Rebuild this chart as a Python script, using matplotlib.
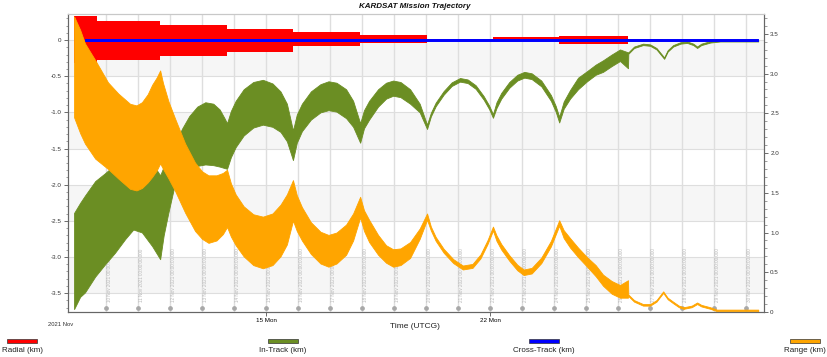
import matplotlib
matplotlib.use("Agg")
import matplotlib.pyplot as plt
import matplotlib.dates as mdates
import matplotlib.transforms as mtransforms
from matplotlib.patches import Rectangle
from matplotlib.ticker import MultipleLocator, FuncFormatter
from datetime import datetime
import numpy as np

plt.rcParams['font.family'] = ['Liberation Sans', 'DejaVu Sans']

# times are fractional days of November 2021; hi/lo are the envelopes of the
# fast orbital oscillation
radial_t = [9.0, 9.72, 11.69, 13.78, 15.84, 17.94, 20.03, 22.09, 24.16, 26.31, 27.41, 30.38]
radial_hi = [0.33, 0.26, 0.21, 0.15, 0.11, 0.07, 0.02, 0.04, 0.05, 0.015, 0.005, 0.005]
radial_lo = [-0.32, -0.28, -0.22, -0.16, -0.08, -0.04, -0.02, -0.02, -0.06, -0.015, -0.005, -0.005]

cross_t = [9.34, 26.31, 30.38]
cross_hi = [0.015, 0.008, 0.008]
cross_lo = [-0.015, -0.008, -0.008]

intrack_t = [9.0, 9.19, 9.34, 9.66, 9.97, 10.28, 10.6, 10.85, 11.12, 11.44, 11.69,
             11.8, 11.94, 12.16, 12.38, 12.6, 12.85, 13.1, 13.35, 13.55, 13.7, 13.78,
             13.9, 14.05, 14.3, 14.6, 14.9, 15.2, 15.45, 15.65, 15.84,
             15.96, 16.12, 16.4, 16.7, 16.95, 17.2, 17.5, 17.72, 17.94,
             18.06, 18.22, 18.5, 18.75, 18.97, 19.2, 19.5, 19.8, 20.03,
             20.15, 20.3, 20.55, 20.8, 21.06, 21.3, 21.55, 21.8, 21.97, 22.09,
             22.2, 22.35, 22.6, 22.85, 23.07, 23.3, 23.6, 23.9, 24.05, 24.16,
             24.3, 24.5, 24.75, 25.03, 25.3, 25.53, 25.8, 26.06, 26.31,
             26.32, 26.5, 26.78, 27.0, 27.2, 27.44, 27.55, 27.72, 27.95, 28.16,
             28.35, 28.47, 28.6, 28.88, 29.19, 30.38]
intrack_hi = [-2.39, -2.25, -2.15, -1.95, -1.84, -1.72, -1.60, -1.55, -1.58, -1.70, -1.87,
              -1.75, -1.62, -1.42, -1.22, -1.05, -0.92, -0.86, -0.88, -0.96, -1.08, -1.15,
              -0.98, -0.84, -0.68, -0.58, -0.55, -0.60, -0.71, -0.88, -1.25,
              -1.03, -0.88, -0.71, -0.61, -0.57, -0.59, -0.68, -0.84, -1.15,
              -0.97, -0.84, -0.68, -0.59, -0.56, -0.58, -0.68, -0.88, -1.17,
              -1.005, -0.865, -0.705, -0.585, -0.525, -0.545, -0.625, -0.775, -0.905, -1.025,
              -0.86, -0.73, -0.58, -0.48, -0.44, -0.46, -0.56, -0.76, -0.91, -1.06,
              -0.85, -0.69, -0.52, -0.43, -0.34, -0.28, -0.20, -0.13, -0.17,
              -0.17, -0.09, -0.05, -0.06, -0.11, -0.24, -0.14, -0.07, -0.03, -0.02,
              -0.05, -0.09, -0.05, -0.015, 0.0, 0.0]
intrack_lo = [-3.72, -3.55, -3.49, -3.27, -3.10, -2.94, -2.75, -2.62, -2.66, -2.85, -3.03,
              -2.70, -2.40, -1.97, -1.85, -1.78, -1.74, -1.72, -1.73, -1.75, -1.77, -1.78,
              -1.62, -1.48, -1.32, -1.21, -1.17, -1.20, -1.27, -1.40, -1.66,
              -1.42, -1.26, -1.10, -1.00, -0.97, -0.99, -1.08, -1.20, -1.42,
              -1.22, -1.10, -0.92, -0.81, -0.77, -0.79, -0.88, -1.00, -1.23,
              -1.055, -0.915, -0.755, -0.635, -0.575, -0.595, -0.675, -0.825, -0.955, -1.075,
              -0.94, -0.81, -0.66, -0.56, -0.52, -0.54, -0.64, -0.84, -0.99, -1.14,
              -0.95, -0.81, -0.68, -0.57, -0.48, -0.44, -0.36, -0.29, -0.39,
              -0.19, -0.11, -0.07, -0.08, -0.13, -0.26, -0.16, -0.09, -0.05, -0.04,
              -0.07, -0.11, -0.07, -0.035, -0.02, -0.02]

range_t = [9.0, 9.19, 9.34, 9.66, 10.06, 10.38, 10.75, 10.95, 11.12, 11.3, 11.44, 11.58, 11.69,
           11.78, 11.95, 12.16, 12.47, 12.78, 13.0, 13.2, 13.45, 13.65, 13.78,
           13.9, 14.05, 14.3, 14.6, 14.9, 15.2, 15.45, 15.65, 15.84,
           15.96, 16.12, 16.4, 16.7, 16.95, 17.2, 17.5, 17.72, 17.94,
           18.06, 18.22, 18.5, 18.75, 18.97, 19.2, 19.5, 19.8, 20.03,
           20.15, 20.3, 20.55, 20.85, 21.15, 21.45, 21.7, 21.92, 22.09,
           22.2, 22.35, 22.6, 22.85, 23.05, 23.3, 23.6, 23.9, 24.16,
           24.3, 24.5, 24.75, 25.03, 25.3, 25.53, 25.8, 26.06, 26.31,
           26.32, 26.5, 26.78, 27.0, 27.2, 27.41, 27.55, 27.72, 27.9, 28.05,
           28.3, 28.47, 28.6, 28.88, 29.09, 30.38]
range_hi = [3.72, 3.55, 3.38, 3.17, 2.89, 2.75, 2.62, 2.60, 2.64, 2.74, 2.86, 2.95, 3.04,
            2.88, 2.65, 2.43, 2.12, 1.88, 1.77, 1.72, 1.72, 1.75, 1.79,
            1.62, 1.48, 1.33, 1.23, 1.20, 1.24, 1.35, 1.48, 1.66,
            1.47, 1.32, 1.13, 1.01, 0.97, 1.00, 1.10, 1.24, 1.45,
            1.28, 1.16, 0.97, 0.84, 0.79, 0.80, 0.88, 1.05, 1.24,
            1.075, 0.945, 0.795, 0.665, 0.585, 0.605, 0.725, 0.905, 1.075,
            0.965, 0.855, 0.715, 0.595, 0.535, 0.555, 0.685, 0.895, 1.155,
            1.03, 0.93, 0.81, 0.69, 0.59, 0.47, 0.39, 0.34, 0.40,
            0.22, 0.15, 0.10, 0.10, 0.15, 0.26, 0.18, 0.13, 0.08, 0.06,
            0.08, 0.12, 0.09, 0.06, 0.03, 0.03]
range_lo = [2.45, 2.25, 2.12, 1.93, 1.80, 1.68, 1.55, 1.53, 1.56, 1.63, 1.70, 1.78, 1.87,
            1.80, 1.68, 1.52, 1.25, 1.02, 0.92, 0.87, 0.90, 0.98, 1.07,
            0.95, 0.84, 0.70, 0.59, 0.55, 0.59, 0.70, 0.85, 1.15,
            1.02, 0.90, 0.73, 0.61, 0.57, 0.61, 0.72, 0.90, 1.19,
            1.02, 0.88, 0.72, 0.62, 0.57, 0.59, 0.68, 0.92, 1.16,
            1.025, 0.895, 0.745, 0.615, 0.535, 0.555, 0.675, 0.855, 1.025,
            0.895, 0.785, 0.645, 0.525, 0.465, 0.485, 0.615, 0.825, 1.085,
            0.93, 0.81, 0.69, 0.57, 0.45, 0.33, 0.23, 0.18, 0.18,
            0.20, 0.13, 0.08, 0.08, 0.13, 0.24, 0.16, 0.11, 0.06, 0.04,
            0.06, 0.10, 0.07, 0.04, 0.01, 0.01]

label_days = list(range(10, 31))
major_days = [15, 22]
major_labels = ["15 Mon", "22 Mon"]

legend_names = ["Radial (km)", "In-Track (km)", "Cross-Track (km)", "Range (km)"]
colors = ["#ff0000", "#6b8e23", "#0000ff", "#ffa500"]

BASE = mdates.date2num(datetime(2021, 11, 1))


def nov(days):
    return [BASE + d - 1 for d in days]


W, H = 827, 357
fig = plt.figure(figsize=(W / 100, H / 100), dpi=100)
ax = fig.add_axes([68 / W, 1 - 312 / H, (764 - 68) / W, (312 - 14) / H])
ax.set_xlim(nov([8.81, 30.56]))
ax.set_ylim(-3.76, 0.36)

# alternating light bands and grid
for lo in [-0.5, -1.5, -2.5, -3.5]:
    ax.axhspan(lo, lo + 0.5, color="#f6f6f6", zorder=0, lw=0)
for v in np.arange(-3.5, 0.01, 0.5):
    ax.axhline(v, color="#dedede", lw=0.8, zorder=0.5)
for d in nov(label_days):
    ax.axvline(d, color="#dedede", lw=1.0, zorder=0.5)

trans = mtransforms.blended_transform_factory(ax.transData, ax.transAxes)
for d, x in zip(label_days, nov(label_days)):
    ax.text(x + 0.04, 0.035, f"{d} Nov 2021 00:00:00.000", rotation=90, fontsize=3.3,
            color="#b8b8b8", ha="left", va="bottom", transform=trans, zorder=0.6)
ax.plot(nov(label_days), [0.013] * len(label_days), "o", ms=2.4, color="#a8a8a8",
        transform=trans, zorder=0.7, clip_on=False)

# left-axis series
ax.fill_between(nov(radial_t), radial_lo, radial_hi, step="post", color=colors[0],
                lw=0, zorder=2)
ax.fill_between(nov(intrack_t), intrack_lo, intrack_hi, color=colors[1],
                edgecolor=colors[1], lw=0.6, zorder=2)
ax.fill_between(nov(cross_t), cross_lo, cross_hi, step="post", color=colors[2],
                edgecolor=colors[2], lw=0.7, zorder=3)

# right axis: range
ax2 = ax.twinx()
ax2.set_ylim(0, 3.75)
ax2.fill_between(nov(range_t), range_lo, range_hi, color=colors[3],
                 edgecolor=colors[3], lw=0.6, zorder=2)

fmt = FuncFormatter(lambda v, _: "0" if abs(v) < 1e-9 else f"{v:.1f}")
ax.yaxis.set_major_locator(MultipleLocator(0.5))
ax.yaxis.set_minor_locator(MultipleLocator(0.1))
ax.yaxis.set_major_formatter(fmt)
ax2.yaxis.set_major_locator(MultipleLocator(0.5))
ax2.yaxis.set_minor_locator(MultipleLocator(0.1))
ax2.yaxis.set_major_formatter(fmt)
for a in (ax, ax2):
    a.tick_params(axis="y", which="major", labelsize=4.5, length=3, width=0.6,
                  color="#555555", labelcolor="#333333", pad=1.5)
    a.tick_params(axis="y", which="minor", length=1.8, width=0.5, color="#777777")

ax.set_xticks(nov(major_days))
ax.set_xticklabels(major_labels)
ax.set_xticks(nov(label_days), minor=True)
ax.tick_params(axis="x", which="major", labelsize=4.5, length=3, width=0.6,
               color="#555555", pad=1.5)
ax.tick_params(axis="x", which="minor", length=0)

for a in (ax, ax2):
    a.spines["top"].set_color("#c8c8c8")
    a.spines["left"].set_color("#666666")
    a.spines["bottom"].set_color("#666666")
    a.spines["right"].set_color("#666666")
    for s in a.spines.values():
        s.set_linewidth(0.8)

fig.text(415 / W, 1 - 7 / H, "KARDSAT Mission Trajectory", ha="center", va="center",
         fontsize=5.8, fontweight="bold", style="italic", color="#111111")
fig.text(415 / W, 1 - 327 / H, "Time (UTCG)", ha="center", va="center", fontsize=6,
         color="#222222")
fig.text(61 / W, 1 - 325 / H, "2021 Nov", ha="center", va="center", fontsize=4.2,
         color="#333333")

# legend along the bottom
for i, (name, c) in enumerate(zip(legend_names, colors)):
    cx = 22 + i * 261
    fig.patches.append(Rectangle(((cx - 15) / W, 1 - 343 / H), 30 / W, 4.5 / H,
                                 transform=fig.transFigure, facecolor=c,
                                 edgecolor="#333333", lw=0.5))
    fig.text(cx / W, 1 - 350 / H, name, ha="center", va="center", fontsize=5.8,
             color="#222222")

fig.savefig("out.png", dpi=100)
